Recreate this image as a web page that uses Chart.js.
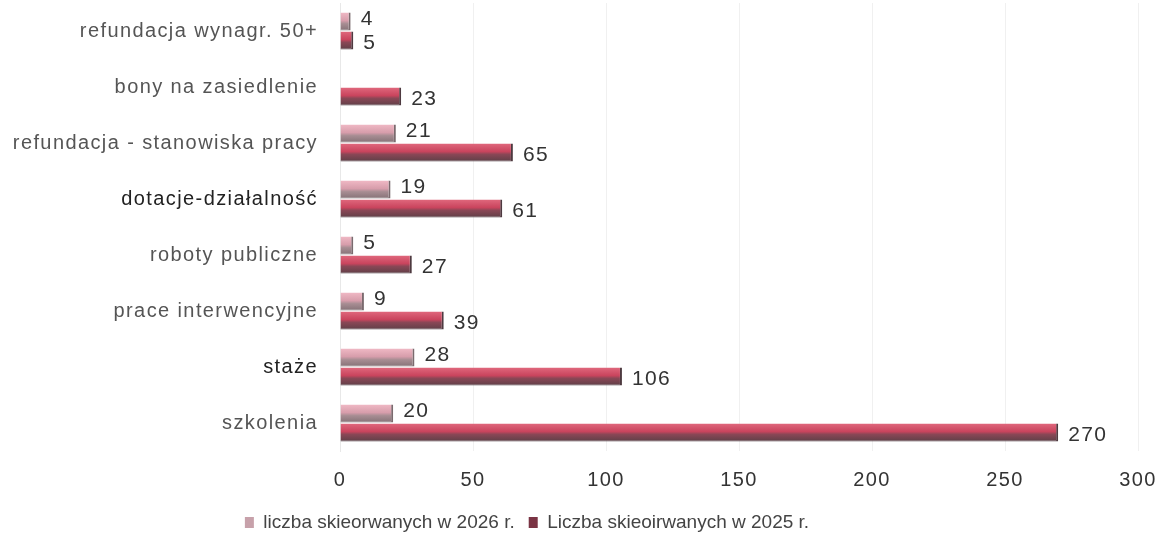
<!DOCTYPE html>
<html lang="pl">
<head>
  <meta charset="UTF-8">
  <title>Liczba skierowanych</title>
  <style>
    body { margin: 0; background: #fff; }
    #wrap { width: 1168px; height: 537px; }
  </style>
  <script src="https://cdn.jsdelivr.net/npm/chart.js"></script>
</head>
<body>
  <div id="wrap"><canvas id="chart"></canvas></div>

  <script>
    const categories = [
      "refundacja wynagr. 50+",
      "bony na zasiedlenie",
      "refundacja - stanowiska pracy",
      "dotacje-działalność",
      "roboty publiczne",
      "prace interwencyjne",
      "staże",
      "szkolenia"
    ];
    const values2026 = [4, null, 21, 19, 5, 9, 28, 20];
    const values2025 = [5, 23, 65, 61, 27, 39, 106, 270];
    const xTicks = [0, 50, 100, 150, 200, 250, 300];
    const seriesNames = ["liczba skieorwanych w 2026 r.", "Liczba skieoirwanych w 2025 r."];
    const darkLabels = ["dotacje-działalność", "staże"];
    const legendColors = ["#c7a1aa", "#7a3444"];

    const font = "'Liberation Sans', Arial, sans-serif";

    // vertical shading of each bar (light top, dark bottom)
    function barFill(stops, flat) {
      return function(c) {
        const el = c.chart.getDatasetMeta(c.datasetIndex).data[c.dataIndex];
        if (!el || el.y == null || el.height == null || isNaN(el.y)) return flat;
        const g = c.chart.ctx.createLinearGradient(0, el.y - el.height / 2, 0, el.y + el.height / 2);
        stops.forEach(s => g.addColorStop(s[0], s[1]));
        return g;
      };
    }

    const valueLabels = {
      id: "valueLabels",
      beforeDraw(chart) {
        chart.ctx.letterSpacing = "0px";
      },
      afterDatasetsDraw(chart) {
        const ctx = chart.ctx;
        ctx.letterSpacing = "1.4px";
        ctx.save();
        ctx.font = "21px " + font;
        ctx.fillStyle = "#333";
        ctx.textBaseline = "middle";
        chart.data.datasets.forEach((ds, i) => {
          const meta = chart.getDatasetMeta(i);
          meta.data.forEach((bar, j) => {
            if (ds.data[j] == null) return;
            ctx.fillText(ds.data[j], bar.x + 10, bar.y + (i === 0 ? -2 : 3));
          });
        });
        ctx.restore();
        // axis labels (ticks z: 1) are drawn next, with the same spacing
      },
      afterDraw(chart) {
        chart.ctx.letterSpacing = "0px";
      },
      afterLayout(chart) {
        const shift = 527 - (chart.legend.left + chart.legend.right) / 2;
        chart.legend.left += shift;
        chart.legend.right += shift;
      }
    };

    const chart = new Chart(document.getElementById("chart"), {
      type: "bar",
      data: {
        labels: categories,
        datasets: [
          {
            label: seriesNames[0],
            data: values2026,
            backgroundColor: barFill([[0, "#f0b9c5"], [0.45, "#d79dab"], [0.62, "#a88d93"], [1, "#857277"]], "#d4a3ae"),
            borderColor: "#7a6a6e",
            borderWidth: { top: 0, left: 0, right: 2, bottom: 1 },
            borderSkipped: false
          },
          {
            label: seriesNames[1],
            data: values2025,
            backgroundColor: barFill([[0, "#e0687d"], [0.45, "#c9445d"], [0.6, "#8a4756"], [1, "#5f3f47"]], "#c8485f"),
            borderColor: "#4e3a40",
            borderWidth: { top: 0, left: 0, right: 2, bottom: 1 },
            borderSkipped: false
          }
        ]
      },
      options: {
        indexAxis: "y",
        responsive: true,
        maintainAspectRatio: false,
        animation: false,
        layout: { padding: { top: 3, right: 30, left: 0, bottom: -5 } },
        categoryPercentage: 0.68,
        barPercentage: 0.95,
        scales: {
          x: {
            min: 0,
            max: 300,
            afterBuildTicks(axis) { axis.ticks = xTicks.map(v => ({ value: v })); },
            afterFit(axis) {
              axis.height = 48;
              axis.paddingLeft = 0;
              axis.paddingRight = 0;
            },
            grid: { color: "#f0f0f0", drawTicks: false },
            border: { display: false },
            ticks: { z: 1, color: "#333", padding: 17, font: { family: font, size: 20 } }
          },
          y: {
            grid: { display: false },
            border: { color: "#e8e8e8" },
            afterFit(axis) {
              axis.width = 340;
              axis.paddingTop = 0;
              axis.paddingBottom = 0;
            },
            ticks: {
              z: 1,
              color: c => darkLabels.includes(categories[c.index]) ? "#222" : "#555",
              padding: 14,
              font: { family: font, size: 20 }
            }
          }
        },
        plugins: {
          legend: {
            position: "bottom",
            labels: {
              color: "#444",
              font: { family: font, size: 19 },
              boxWidth: 9,
              boxHeight: 11,
              padding: 14,
              generateLabels(ch) {
                const items = Chart.defaults.plugins.legend.labels.generateLabels(ch);
                items.forEach((it, i) => {
                  it.fillStyle = legendColors[i];
                  it.strokeStyle = legendColors[i];
                  it.lineWidth = 0;
                });
                return items;
              }
            }
          },
          tooltip: { enabled: false }
        }
      },
      plugins: [valueLabels]
    });
    chart.update();
  </script>
</body>
</html>
